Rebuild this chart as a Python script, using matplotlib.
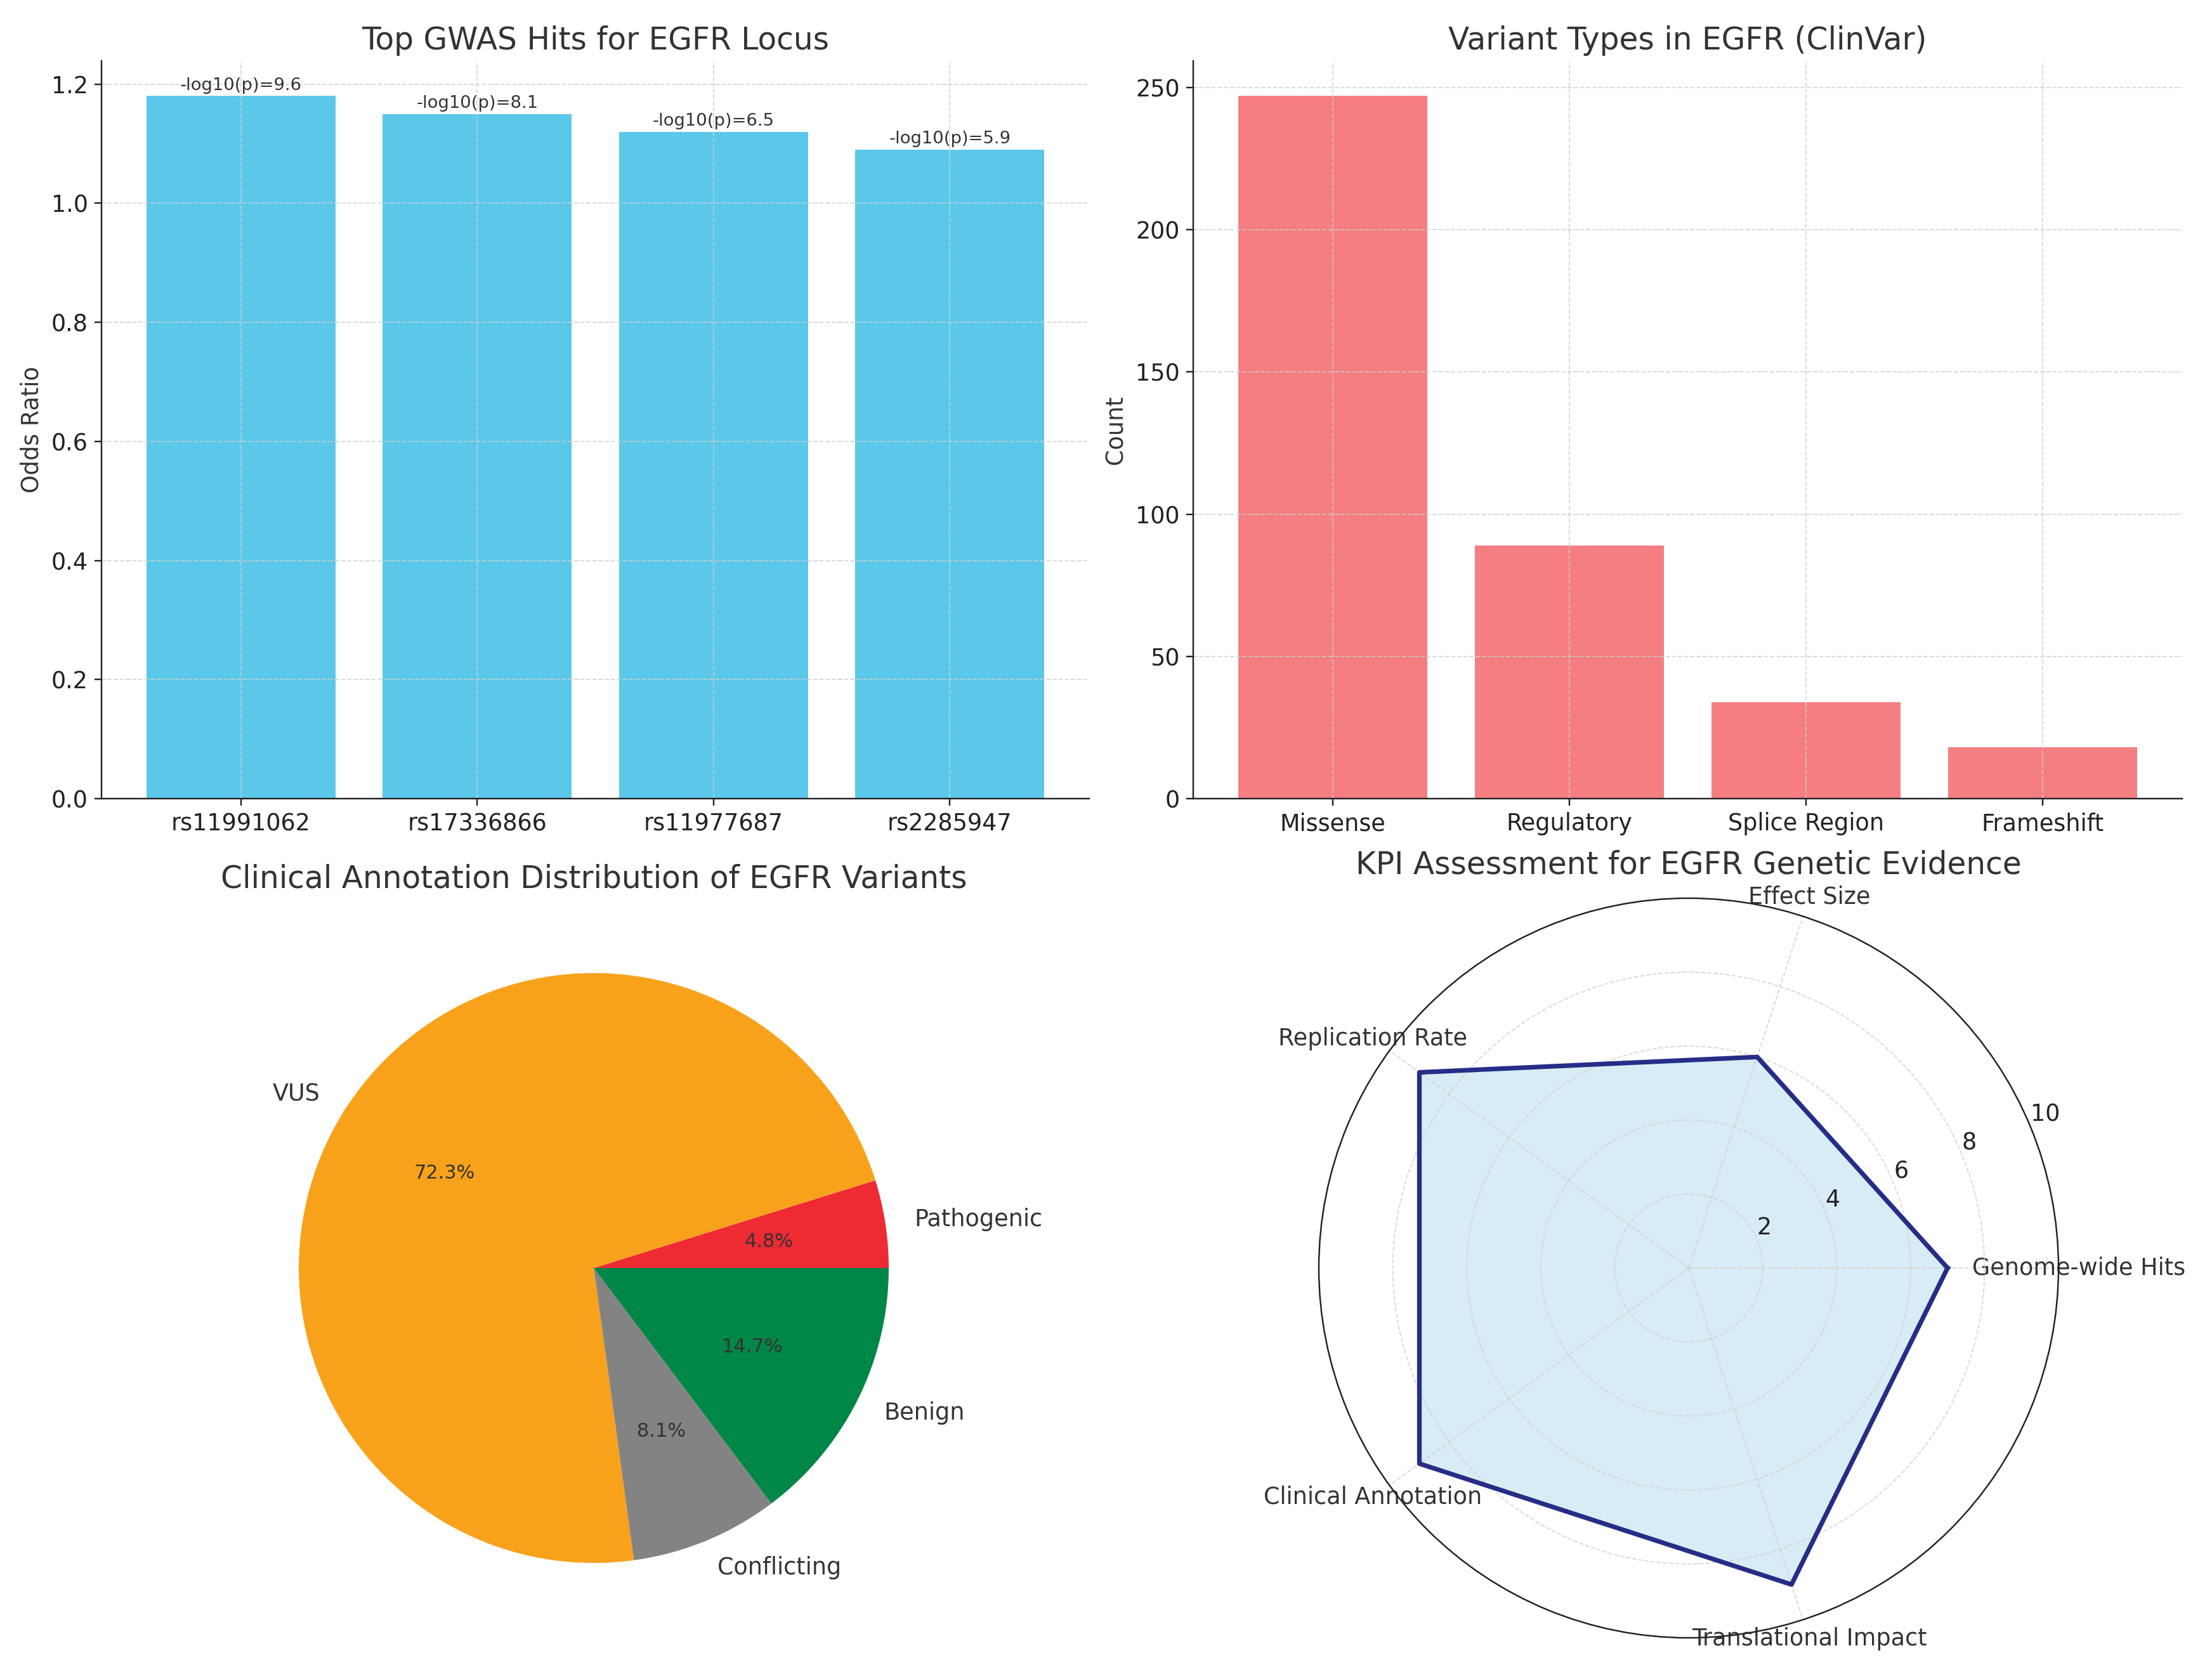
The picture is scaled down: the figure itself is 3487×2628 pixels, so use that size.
import matplotlib
matplotlib.use("Agg")
import matplotlib.pyplot as plt
import numpy as np

# ---- data ----
snps = ["rs11991062", "rs17336866", "rs11977687", "rs2285947"]
odds_ratios = [1.18, 1.15, 1.12, 1.09]
neglog10p = [9.6, 8.1, 6.5, 5.9]

variant_types = ["Missense", "Regulatory", "Splice Region", "Frameshift"]
variant_counts = [247, 89, 34, 18]

clin_labels = ["Pathogenic", "VUS", "Conflicting", "Benign"]
clin_pcts = [4.8, 72.3, 8.1, 14.7]
clin_colors = ["#EE2A33", "#F8A21C", "#838383", "#008647"]

kpi_labels = ["Genome-wide Hits", "Effect Size", "Replication Rate",
              "Clinical Annotation", "Translational Impact"]
kpi_values = [7, 6, 9, 9, 9]

# ---- style ----
TXT = "#333333"
plt.rcParams.update({
    "font.family": ["DejaVu Sans"],
    "font.size": 12,
    "text.color": TXT,
    "axes.labelcolor": TXT,
    "xtick.color": "#222222",
    "ytick.color": "#222222",
    "axes.edgecolor": "#222222",
    "axes.titlecolor": TXT,
})

W, H = 3487, 2628
DPI = 219
fig = plt.figure(figsize=(W / DPI, H / DPI), dpi=DPI)

def px_axes(left, top, right, bottom, **kw):
    return fig.add_axes([left / W, 1 - bottom / H, (right - left) / W, (bottom - top) / H], **kw)

grid_kw = dict(linestyle="--", color="#cfcfcf", linewidth=0.6, alpha=0.8)

# ---- top-left: GWAS ----
ax1 = px_axes(160, 96, 1717, 1259)
bars = ax1.bar(snps, odds_ratios, color="#5BC8EA", width=0.8)
for b, v in zip(bars, neglog10p):
    ax1.text(b.get_x() + b.get_width() / 2, b.get_height() + 0.004,
             f"-log10(p)={v}", ha="center", va="bottom", fontsize=9, color=TXT)
ax1.set_title("Top GWAS Hits for EGFR Locus", fontsize=16)
ax1.set_ylabel("Odds Ratio")
ax1.grid(True, **grid_kw)
for s in ("top", "right"):
    ax1.spines[s].set_visible(False)

# ---- top-right: ClinVar variant types ----
ax2 = px_axes(1881, 96, 3440, 1259)
ax2.bar(variant_types, variant_counts, color="#F47E82", width=0.8)
ax2.set_title("Variant Types in EGFR (ClinVar)", fontsize=16)
ax2.set_ylabel("Count")
ax2.grid(True, **grid_kw)
for s in ("top", "right"):
    ax2.spines[s].set_visible(False)

# ---- bottom-left: pie ----
cx, cy, r = 936, 1999, 465
side = 2.5 * r
ax3 = px_axes(cx - side / 2, cy - side / 2, cx + side / 2, cy + side / 2)
total = sum(clin_pcts)
ax3.pie(clin_pcts, labels=clin_labels, colors=clin_colors,
        autopct=lambda p: f"{p * total / 100:.1f}%",
        textprops={"fontsize": 12, "color": TXT})
for t in ax3.texts:
    if t.get_text().endswith("%"):
        t.set_fontsize(10)
ax3.set_title("Clinical Annotation Distribution of EGFR Variants", fontsize=16)

# ---- bottom-right: radar ----
rcx, rcy, rr = 2662, 1999, 583
ax4 = px_axes(rcx - rr, rcy - rr, rcx + rr, rcy + rr, projection="polar")
n = len(kpi_labels)
angles = np.linspace(0, 2 * np.pi, n, endpoint=False).tolist()
vals = kpi_values + kpi_values[:1]
angs = angles + angles[:1]
ax4.fill(angs, vals, color="#D8ECF5", alpha=1.0)
ax4.plot(angs, vals, color="#262D87", linewidth=2.4)
ax4.set_xticks(angles)
ax4.set_xticklabels(kpi_labels, fontsize=12, color=TXT)
ax4.tick_params(axis="x", pad=0)
ax4.set_ylim(0, 10)
ax4.set_yticks([2, 4, 6, 8, 10])
ax4.set_yticklabels(["2", "4", "6", "8", "10"], fontsize=12)
ax4.grid(True, **grid_kw)
ax4.spines["polar"].set_color("#222222")
ax4.set_title("KPI Assessment for EGFR Genetic Evidence", fontsize=16, pad=6)

fig.savefig("out.png", dpi=DPI)
